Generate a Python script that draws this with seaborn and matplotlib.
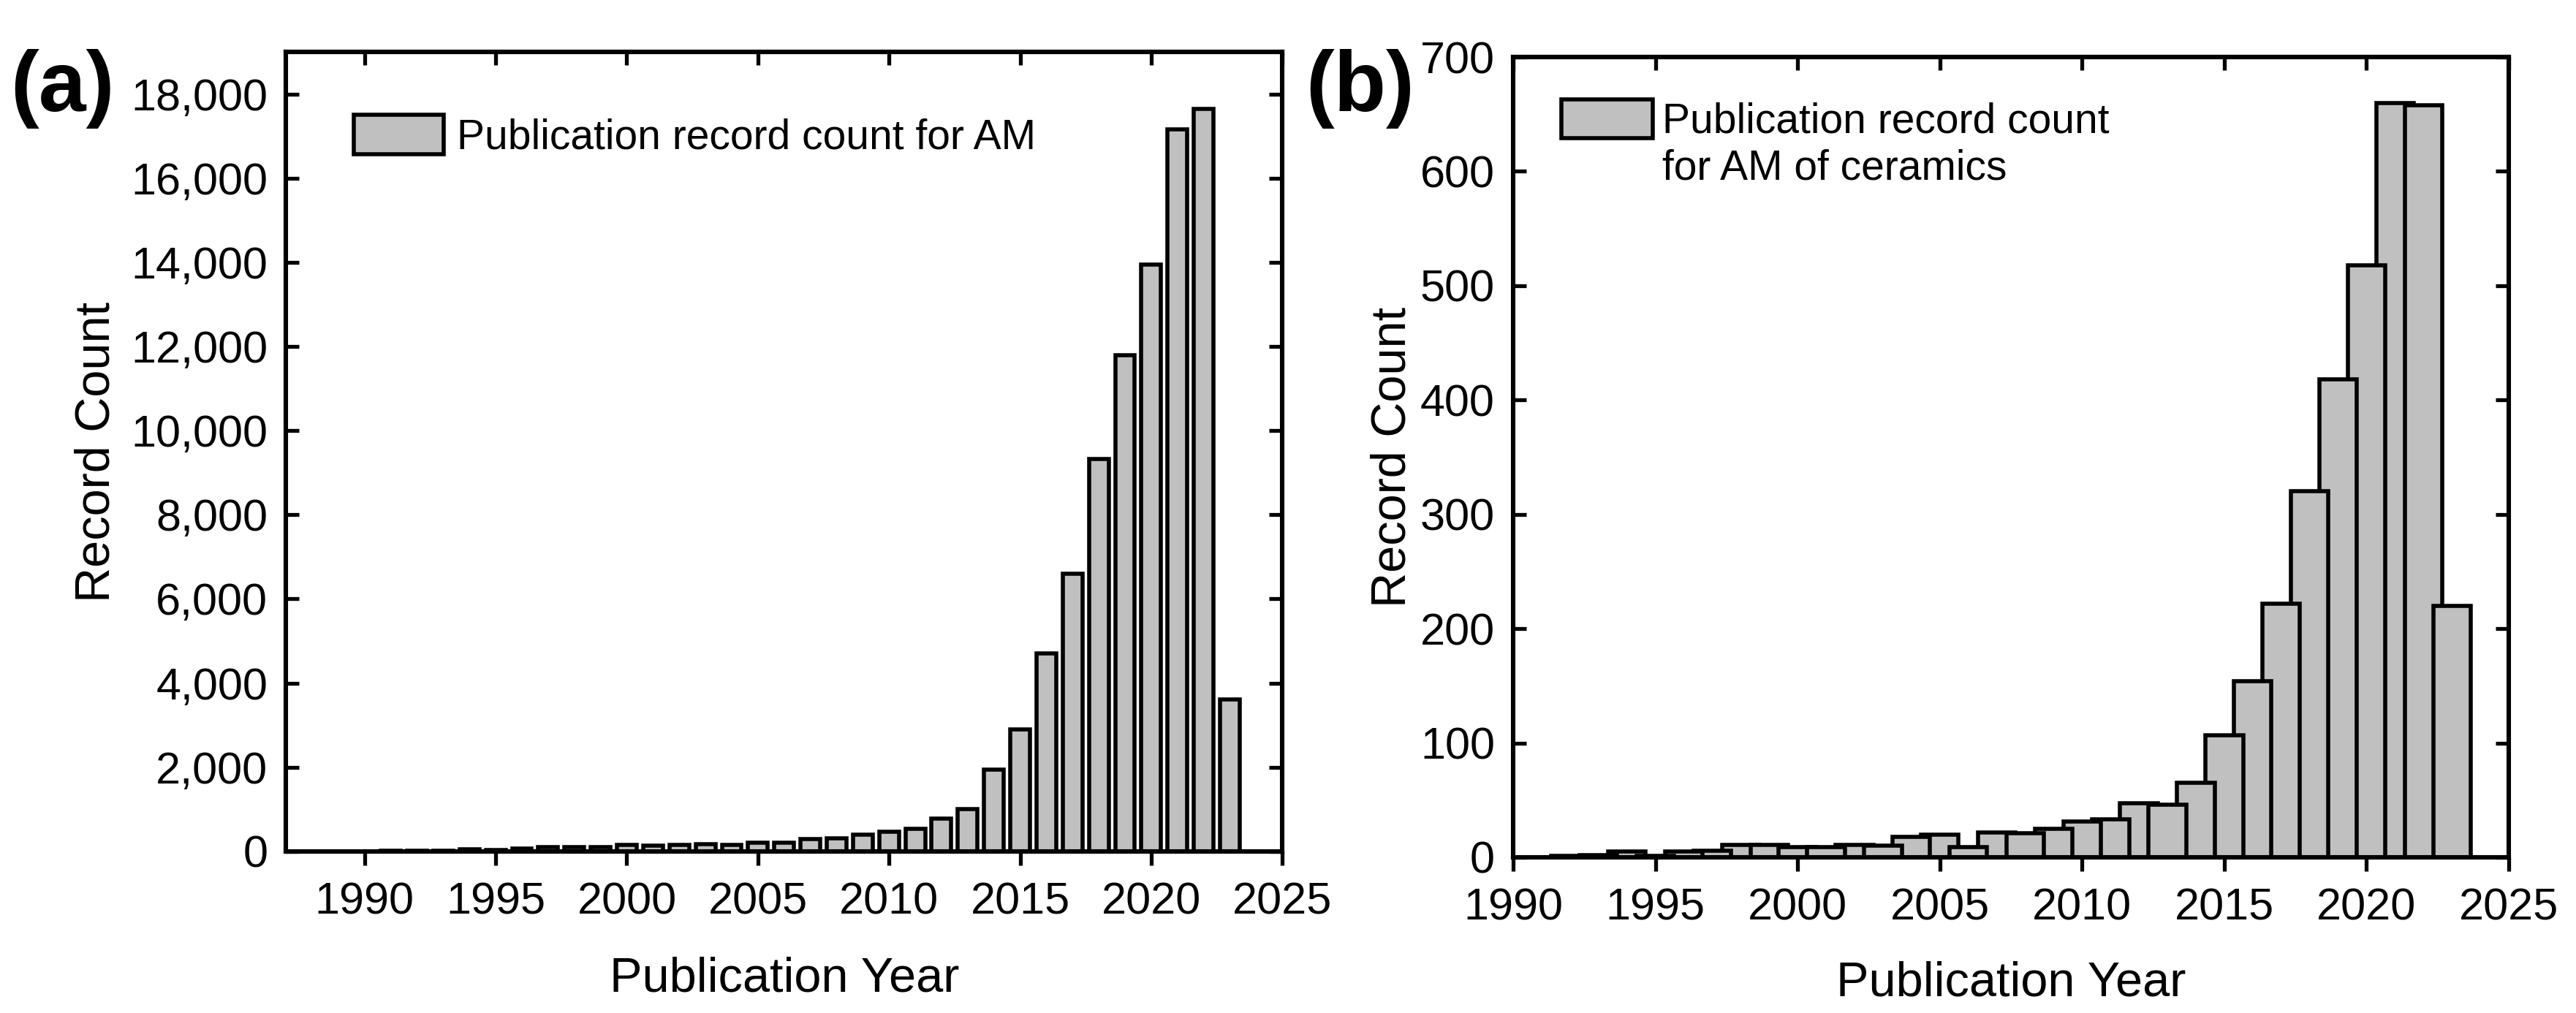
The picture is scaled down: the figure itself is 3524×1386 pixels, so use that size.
import matplotlib
matplotlib.use("Agg")
import matplotlib.pyplot as plt
import matplotlib.ticker as mticker
from matplotlib.patches import Patch
import seaborn as sns
import pandas as pd

# (a) publication record count for AM
years_am = [1991, 1992, 1993, 1994, 1995, 1996, 1997, 1998, 1999, 2000, 2001,
            2002, 2003, 2004, 2005, 2006, 2007, 2008, 2009, 2010, 2011, 2012,
            2013, 2014, 2015, 2016, 2017, 2018, 2019, 2020, 2021, 2022, 2023]
counts_am = [15, 20, 20, 50, 40, 75, 100, 100, 105, 160, 130,
             160, 175, 160, 205, 215, 290, 315, 390, 460, 545, 775,
             1000, 1950, 2900, 4700, 6600, 9330, 11800, 13950, 17150, 17650, 3620]

# (b) publication record count for AM of ceramics
years_cer = [1992, 1993, 1994, 1995, 1996, 1997, 1998, 1999, 2000, 2001, 2002,
             2003, 2004, 2005, 2006, 2007, 2008, 2009, 2010, 2011, 2012, 2013,
             2014, 2015, 2016, 2017, 2018, 2019, 2020, 2021, 2022, 2023]
counts_cer = [1, 2, 5, 1, 5, 6, 11, 11, 9, 9, 11,
              10, 18, 20, 9, 22, 21, 25, 31, 33, 47, 46,
              65, 107, 154, 222, 320, 418, 518, 660, 658, 220]

year_ticks = [1990, 1995, 2000, 2005, 2010, 2015, 2020, 2025]
count_ticks_am = [0, 2000, 4000, 6000, 8000, 10000, 12000, 14000, 16000, 18000]
count_ticks_cer = [0, 100, 200, 300, 400, 500, 600, 700]

legend_am = ["Publication record count for AM"]
legend_cer = ["Publication record count", "for AM of ceramics"]

BAR_GRAY = "#C0C0C0"
W, H, DPI = 3524, 1386, 200

sns.set_theme(style="ticks", rc={
    "axes.edgecolor": "black", "text.color": "black", "axes.labelcolor": "black",
    "xtick.color": "black", "ytick.color": "black",
})
plt.rcParams["font.family"] = ["Liberation Sans", "DejaVu Sans"]


def style_axes(ax, xlim, ylim, yticks, xlabel_y, ylabel_x):
    ax.set_xlim(*xlim)
    ax.set_ylim(*ylim)
    ax.set_xticks(year_ticks)
    ax.set_yticks(yticks)
    for s in ax.spines.values():
        s.set_visible(True)
        s.set_linewidth(2.2)
        s.set_zorder(5)
    ax.tick_params(axis="x", direction="out", length=6.8, width=1.9,
                   labelsize=22, pad=8, top=False)
    ax.tick_params(axis="y", direction="in", length=6.5, width=1.9,
                   labelsize=22, pad=9, left=True, right=True)
    # top ticks point inward while bottom ones point out
    sec = ax.secondary_xaxis("top")
    sec.set_xticks(year_ticks)
    sec.set_xticklabels([])
    sec.tick_params(axis="x", direction="in", length=6.5, width=1.9)
    sec.spines["top"].set_linewidth(2.2)
    ax.set_xlabel("Publication Year", fontsize=24)
    ax.set_ylabel("Record Count", fontsize=24)
    ax.xaxis.set_label_coords(0.5, xlabel_y)
    ax.yaxis.set_label_coords(ylabel_x, 0.5)


fig = plt.figure(figsize=(W / DPI, H / DPI), dpi=DPI)
ax_a = fig.add_axes([0.1110, 0.1595, 0.3868, 0.7893])
ax_b = fig.add_axes([0.5874, 0.1537, 0.3865, 0.7900])

df_am = pd.DataFrame({"year": years_am, "count": counts_am})
df_cer = pd.DataFrame({"year": years_cer, "count": counts_cer})

sns.barplot(data=df_am, x="year", y="count", native_scale=True, width=0.75,
            color=BAR_GRAY, saturation=1, edgecolor="black", linewidth=2.0,
            errorbar=None, label=legend_am[0], ax=ax_a)
sns.barplot(data=df_cer, x="year", y="count", native_scale=True, width=1.32,
            color=BAR_GRAY, saturation=1, edgecolor="black", linewidth=2.0,
            errorbar=None, label=legend_cer[0], ax=ax_b)

# overlapping bars in (b): shorter bars sit in front of taller ones
hmax = max(counts_cer)
for p in ax_b.patches:
    p.set_zorder(1 + 0.5 * (1 - p.get_height() / hmax))

style_axes(ax_a, (1987, 2025), (0, 19000), count_ticks_am, -0.131, -0.1673)
style_axes(ax_b, (1990, 2025), (0, 700), count_ticks_cer, -0.1297, -0.098)
ax_a.yaxis.set_major_formatter(mticker.StrMethodFormatter("{x:,.0f}"))

h_a, l_a = ax_a.get_legend_handles_labels()
ax_a.legend(h_a, l_a, loc="upper left", bbox_to_anchor=(0.0679, 0.921),
            frameon=False, fontsize=20.5, borderpad=0, borderaxespad=0,
            handlelength=2.16, handleheight=1.07, handletextpad=0.32)

h_b, _ = ax_b.get_legend_handles_labels()
blank = Patch(facecolor="none", edgecolor="none")
ax_b.legend([h_b[0], blank], legend_cer, loc="upper left",
            bbox_to_anchor=(0.0481, 0.9475), frameon=False, fontsize=20.5,
            borderpad=0, borderaxespad=0, handlelength=2.2, handleheight=1.07,
            handletextpad=0.23, labelspacing=0.1)

fig.text(14 / W, 1 - 152 / H, "(a)", fontsize=42, fontweight="bold",
         ha="left", va="baseline")
fig.text(1786 / W, 1 - 152 / H, "(b)", fontsize=42, fontweight="bold",
         ha="left", va="baseline")

fig.savefig("out.png", dpi=DPI)
